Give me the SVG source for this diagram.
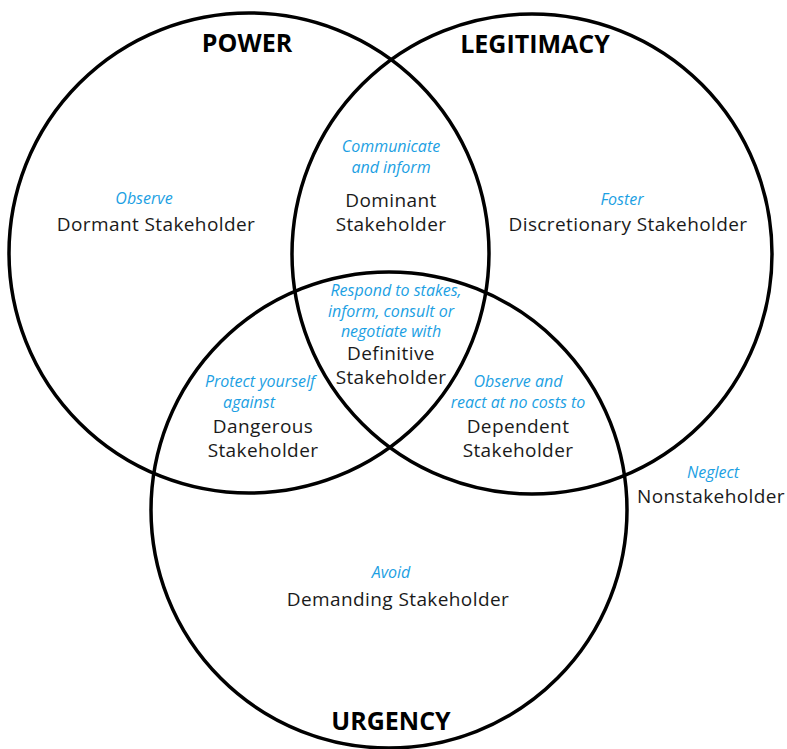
<svg xmlns="http://www.w3.org/2000/svg" width="787" height="749" viewBox="0 0 787 749">
<style>
.c{fill:none;stroke:#000;stroke-width:3.5}
.t{font-family:"Open Sans","Liberation Sans",sans-serif;font-size:19px;letter-spacing:0.4px;fill:#1a1a1a;text-anchor:middle}
.a{font-family:"Open Sans","Liberation Sans",sans-serif;font-size:16px;font-style:italic;fill:#1c9fe3;text-anchor:middle}
.h{font-family:"Open Sans","Liberation Sans",sans-serif;font-size:25px;font-weight:bold;fill:#000;text-anchor:middle}
</style>
<rect width="787" height="749" fill="#fff"/>
<g id="circles">
<circle id="power" class="c" cx="249" cy="253" r="240"/>
<circle id="legitimacy" class="c" cx="532" cy="254" r="240"/>
<circle id="urgency" class="c" cx="389" cy="510" r="238"/>
</g>
<g id="labels">
<text class="h" x="247" y="52">POWER</text>
<text class="h" x="535" y="53">LEGITIMACY</text>
<text class="h" x="391" y="730">URGENCY</text>
</g>
<g id="dormant">
<text class="a" x="144" y="204">Observe</text>
<text class="t" x="156" y="231">Dormant Stakeholder</text>
</g>
<g id="dominant">
<text class="a" x="391" y="152">Communicate</text>
<text class="a" x="391" y="173">and inform</text>
<text class="t" x="391" y="207">Dominant</text>
<text class="t" x="391" y="231">Stakeholder</text>
</g>
<g id="discretionary">
<text class="a" x="622" y="205">Foster</text>
<text class="t" x="628" y="231">Discretionary Stakeholder</text>
</g>
<g id="definitive">
<text class="a" x="396" y="296">Respond to stakes,</text>
<text class="a" x="391" y="317">inform, consult or</text>
<text class="a" x="391" y="337">negotiate with</text>
<text class="t" x="391" y="360">Definitive</text>
<text class="t" x="391" y="384">Stakeholder</text>
</g>
<g id="dangerous">
<text class="a" x="260" y="387">Protect yourself</text>
<text class="a" x="249" y="408">against</text>
<text class="t" x="263" y="433">Dangerous</text>
<text class="t" x="263" y="457">Stakeholder</text>
</g>
<g id="dependent">
<text class="a" x="518" y="387">Observe and</text>
<text class="a" x="518" y="408">react at no costs to</text>
<text class="t" x="518" y="433">Dependent</text>
<text class="t" x="518" y="457">Stakeholder</text>
</g>
<g id="nonstakeholder">
<text class="a" x="713" y="478">Neglect</text>
<text class="t" x="711" y="503">Nonstakeholder</text>
</g>
<g id="demanding">
<text class="a" x="391" y="578">Avoid</text>
<text class="t" x="398" y="606">Demanding Stakeholder</text>
</g>
</svg>
